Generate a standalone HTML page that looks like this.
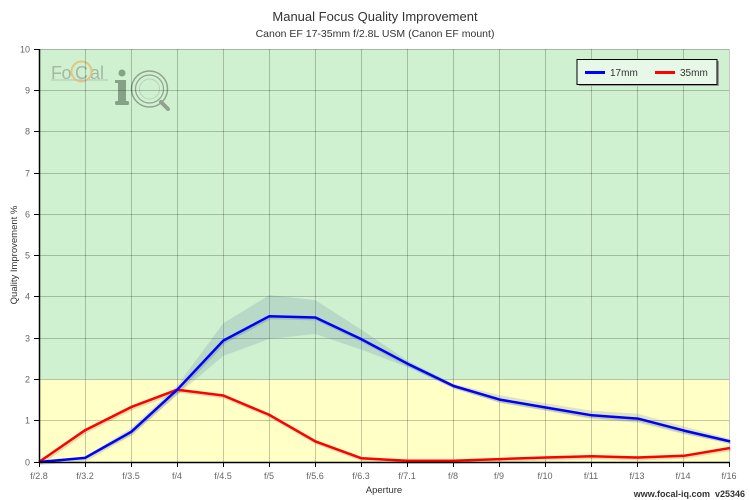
<!DOCTYPE html>
<html><head><meta charset="utf-8"><style>
html,body{margin:0;padding:0;background:#fff;}
svg{display:block;font-family:"Liberation Sans",sans-serif;}
</style></head><body>
<svg width="750" height="500" viewBox="0 0 750 500" xmlns="http://www.w3.org/2000/svg">
<rect x="0" y="0" width="750" height="500" fill="#fff"/>
<text x="375" y="21" text-anchor="middle" font-size="13" fill="#333">Manual Focus Quality Improvement</text>
<text x="375" y="37" text-anchor="middle" font-size="10.5" fill="#333">Canon EF 17-35mm f/2.8L USM (Canon EF mount)</text>
<!-- backgrounds -->
<rect x="39" y="49" width="691" height="330.4" fill="#cff1cf"/>
<rect x="39" y="379.4" width="691" height="82.6" fill="#ffffc6"/>
<!-- logo -->
<g opacity="0.9">
<text x="51" y="79" font-size="18" fill="#a0b2a0" letter-spacing="-0.5">Fo</text>
<text x="75" y="79" font-size="18" fill="#a0b2a0">C</text>
<text x="90" y="79" font-size="18" fill="#a0b2a0">al</text>
<circle cx="81.5" cy="71.5" r="10" fill="none" stroke="#e8c07a" stroke-width="2"/>
<line x1="51" y1="80" x2="108" y2="80" stroke="#b0c0b0" stroke-width="1"/>
<circle cx="122" cy="73" r="3.5" fill="#7f9a7f"/>
<rect x="118" y="80" width="8" height="24" fill="#7f9a7f"/>
<rect x="115" y="80" width="5" height="3" fill="#7f9a7f"/>
<rect x="115" y="101" width="14" height="4" rx="1.5" fill="#7f9a7f"/>
<circle cx="149.5" cy="89" r="18" fill="none" stroke="#8a9a8a" stroke-width="1.5"/>
<circle cx="149.5" cy="89" r="14" fill="none" stroke="#8a9a8a" stroke-width="1.2"/>
<circle cx="149.5" cy="89" r="10" fill="none" stroke="#b8ccb8" stroke-width="1"/>
<line x1="161" y1="102" x2="168" y2="109" stroke="#8a9a8a" stroke-width="4" stroke-linecap="round"/>
</g>
<!-- grid -->
<g stroke="rgba(0,0,0,0.22)" stroke-width="1">
<line x1="39" y1="49.5" x2="730" y2="49.5"/>
<line x1="39" y1="90.5" x2="730" y2="90.5"/>
<line x1="39" y1="131.5" x2="730" y2="131.5"/>
<line x1="39" y1="173.5" x2="730" y2="173.5"/>
<line x1="39" y1="214.5" x2="730" y2="214.5"/>
<line x1="39" y1="255.5" x2="730" y2="255.5"/>
<line x1="39" y1="296.5" x2="730" y2="296.5"/>
<line x1="39" y1="338.5" x2="730" y2="338.5"/>
<line x1="39" y1="379.5" x2="730" y2="379.5"/>
<line x1="39" y1="420.5" x2="730" y2="420.5"/>
<line x1="85.5" y1="49" x2="85.5" y2="462"/>
<line x1="131.5" y1="49" x2="131.5" y2="462"/>
<line x1="177.5" y1="49" x2="177.5" y2="462"/>
<line x1="223.5" y1="49" x2="223.5" y2="462"/>
<line x1="269.5" y1="49" x2="269.5" y2="462"/>
<line x1="315.5" y1="49" x2="315.5" y2="462"/>
<line x1="361.5" y1="49" x2="361.5" y2="462"/>
<line x1="407.5" y1="49" x2="407.5" y2="462"/>
<line x1="453.5" y1="49" x2="453.5" y2="462"/>
<line x1="499.5" y1="49" x2="499.5" y2="462"/>
<line x1="545.5" y1="49" x2="545.5" y2="462"/>
<line x1="591.5" y1="49" x2="591.5" y2="462"/>
<line x1="637.5" y1="49" x2="637.5" y2="462"/>
<line x1="683.5" y1="49" x2="683.5" y2="462"/>
</g>
<line x1="729.5" y1="49" x2="729.5" y2="462" stroke="#c8c8c8" stroke-width="1"/>
<!-- blue band -->
<polygon fill="rgba(100,130,170,0.22)" points="39,461.2 85.07,456.6 131.14,428.1 177.21,385.6 223.28,323.2 269.35,295.1 315.42,300.1 361.49,329.8 407.56,360.8 453.63,383.9 499.7,395.1 545.77,403.4 591.84,410.8 637.91,413.7 683.98,426.5 730,438.9 730,443 683.98,434.3 637.91,422.8 591.84,419 545.77,410.8 499.7,402.9 453.63,388.1 407.56,367 361.49,349.7 315.42,334 269.35,338.9 223.28,355.9 177.21,395.1 131.14,435.2 85.07,459.1 39,462"/>
<!-- shadows -->
<polyline fill="none" stroke="rgba(0,0,0,0.12)" stroke-width="4" stroke-linejoin="round" transform="translate(1,1)" points="39,462 85.07,457.9 131.14,431.9 177.21,389.7 223.28,340.6 269.35,316.2 315.42,317.5 361.49,339.3 407.56,363.7 453.63,386 499.7,399.6 545.77,407.5 591.84,415.3 637.91,418.6 683.98,430.6 730,441.4"/>
<polyline fill="none" stroke="rgba(0,0,0,0.12)" stroke-width="4" stroke-linejoin="round" transform="translate(1,1)" points="39,462 85.07,430.2 131.14,407.1 177.21,389.7 223.28,395.5 269.35,414.9 315.42,441.4 361.49,458.3 407.56,460.8 453.63,460.8 499.7,459.1 545.77,457.5 591.84,456.2 637.91,457.5 683.98,455.8 730,448"/>
<!-- lines -->
<polyline fill="none" stroke="#ff0000" stroke-width="2.5" stroke-linejoin="round" points="39,462 85.07,430.2 131.14,407.1 177.21,389.7 223.28,395.5 269.35,414.9 315.42,441.4 361.49,458.3 407.56,460.8 453.63,460.8 499.7,459.1 545.77,457.5 591.84,456.2 637.91,457.5 683.98,455.8 730,448"/>
<polyline fill="none" stroke="#0000ff" stroke-width="2.5" stroke-linejoin="round" points="39,462 85.07,457.9 131.14,431.9 177.21,389.7 223.28,340.6 269.35,316.2 315.42,317.5 361.49,339.3 407.56,363.7 453.63,386 499.7,399.6 545.77,407.5 591.84,415.3 637.91,418.6 683.98,430.6 730,441.4"/>
<!-- axes -->
<line x1="39.5" y1="49" x2="39.5" y2="463" stroke="#000" stroke-width="1.5"/>
<line x1="39" y1="462.5" x2="730" y2="462.5" stroke="#000" stroke-width="1.5"/>
<g stroke="#000" stroke-width="1">
<line x1="34" y1="49.5" x2="39" y2="49.5"/><line x1="34" y1="90.5" x2="39" y2="90.5"/><line x1="34" y1="131.5" x2="39" y2="131.5"/><line x1="34" y1="173.5" x2="39" y2="173.5"/><line x1="34" y1="214.5" x2="39" y2="214.5"/><line x1="34" y1="255.5" x2="39" y2="255.5"/><line x1="34" y1="296.5" x2="39" y2="296.5"/><line x1="34" y1="338.5" x2="39" y2="338.5"/><line x1="34" y1="379.5" x2="39" y2="379.5"/><line x1="34" y1="420.5" x2="39" y2="420.5"/><line x1="34" y1="462.5" x2="39" y2="462.5"/>
<line x1="39.5" y1="462" x2="39.5" y2="467"/><line x1="85.5" y1="462" x2="85.5" y2="467"/><line x1="131.5" y1="462" x2="131.5" y2="467"/><line x1="177.5" y1="462" x2="177.5" y2="467"/><line x1="223.5" y1="462" x2="223.5" y2="467"/><line x1="269.5" y1="462" x2="269.5" y2="467"/><line x1="315.5" y1="462" x2="315.5" y2="467"/><line x1="361.5" y1="462" x2="361.5" y2="467"/><line x1="407.5" y1="462" x2="407.5" y2="467"/><line x1="453.5" y1="462" x2="453.5" y2="467"/><line x1="499.5" y1="462" x2="499.5" y2="467"/><line x1="545.5" y1="462" x2="545.5" y2="467"/><line x1="591.5" y1="462" x2="591.5" y2="467"/><line x1="637.5" y1="462" x2="637.5" y2="467"/><line x1="683.5" y1="462" x2="683.5" y2="467"/><line x1="729.5" y1="462" x2="729.5" y2="467"/>
</g>
<g font-size="9" fill="#666" text-anchor="end">
<text x="30" y="52.5">10</text><text x="30" y="93.5">9</text><text x="30" y="134.5">8</text><text x="30" y="176.5">7</text><text x="30" y="217.5">6</text><text x="30" y="258.5">5</text><text x="30" y="299.5">4</text><text x="30" y="341.5">3</text><text x="30" y="382.5">2</text><text x="30" y="423.5">1</text><text x="30" y="465.5">0</text>
</g>
<g font-size="9" fill="#666" text-anchor="middle">
<text x="39" y="479">f/2.8</text><text x="85" y="479">f/3.2</text><text x="131" y="479">f/3.5</text><text x="177" y="479">f/4</text><text x="223" y="479">f/4.5</text><text x="269" y="479">f/5</text><text x="315" y="479">f/5.6</text><text x="361" y="479">f/6.3</text><text x="407" y="479">f/7.1</text><text x="453" y="479">f/8</text><text x="499" y="479">f/9</text><text x="545" y="479">f/10</text><text x="591" y="479">f/11</text><text x="637" y="479">f/13</text><text x="683" y="479">f/14</text><text x="729" y="479">f/16</text>
</g>
<text x="384" y="493" text-anchor="middle" font-size="9.5" fill="#333">Aperture</text>
<text transform="translate(17,255) rotate(-90)" text-anchor="middle" font-size="9.5" fill="#333">Quality Improvement %</text>
<!-- legend -->
<rect x="579" y="61" width="140" height="25" fill="#999"/>
<rect x="577" y="59.5" width="140" height="25" fill="#e8f8e8" stroke="#000" stroke-width="1"/>
<line x1="585" y1="72.5" x2="605" y2="72.5" stroke="#0000ff" stroke-width="3"/>
<text x="610" y="76" font-size="10" fill="#333">17mm</text>
<line x1="655" y1="72.5" x2="675" y2="72.5" stroke="#ff0000" stroke-width="3"/>
<text x="680" y="76" font-size="10" fill="#333">35mm</text>
<text x="745" y="497" text-anchor="end" font-size="9" font-weight="bold" fill="#333" xml:space="preserve">www.focal-iq.com  v25346</text>
</svg>
</body></html>
